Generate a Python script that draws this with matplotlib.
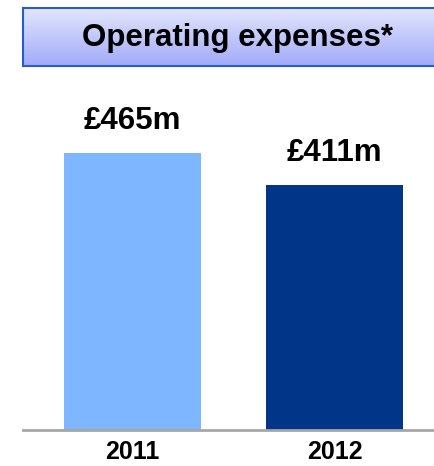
import numpy as np
import matplotlib
matplotlib.use("Agg")
import matplotlib.pyplot as plt
from matplotlib.colors import LinearSegmentedColormap

categories = ["2011", "2012"]
values = [465, 411]
labels = ["£465m", "£411m"]
colors = ["#7eb6ff", "#003587"]
title = "Operating expenses*"

W, H = 435, 466
fig = plt.figure(figsize=(W / 100, H / 100), dpi=100)
plt.rcParams['font.family'] = ['Liberation Sans', 'DejaVu Sans']

# Title box with gradient
tax = fig.add_axes([23 / W, 1 - 66 / H, (W + 5 - 23) / W, 58 / H])
grad = np.linspace(0, 1, 100).reshape(-1, 1)
cmap = LinearSegmentedColormap.from_list("g", ["#e2e6fd", "#a2aaf8"])
tax.imshow(grad, aspect="auto", cmap=cmap, extent=[0, 1, 0, 1], origin="upper")
tax.set_xticks([]); tax.set_yticks([])
for s in tax.spines.values():
    s.set_color("#2a5cc8"); s.set_linewidth(1.5)
fig.text(238 / W, 1 - 38 / H, title, ha="center", va="center",
         fontsize=22.5, fontweight="bold", color="black")

# Bar chart
ax_bottom = 430
ax_top = 80
ax = fig.add_axes([23 / W, 1 - ax_bottom / H, (W - 23) / W, (ax_bottom - ax_top) / H])
x = np.arange(len(categories))
ax.bar(x, values, width=0.678, color=colors)
ax.set_xlim(-0.542, 1.4975)
ax.set_ylim(0, 588)
for s in ["top", "right", "left"]:
    ax.spines[s].set_visible(False)
ax.spines["bottom"].set_color("#a6a6a6")
ax.spines["bottom"].set_linewidth(2)
ax.set_yticks([])
ax.set_xticks(x)
ax.set_xticklabels(categories, fontsize=18, fontweight="bold")
ax.tick_params(axis="x", length=0, pad=7)
for xi, v, lab in zip(x, values, labels):
    ax.annotate(lab, (xi, v), xytext=(0, 17), textcoords="offset pixels",
                ha="center", va="bottom", fontsize=22.5, fontweight="bold")

fig.savefig("out.png", dpi=100)
